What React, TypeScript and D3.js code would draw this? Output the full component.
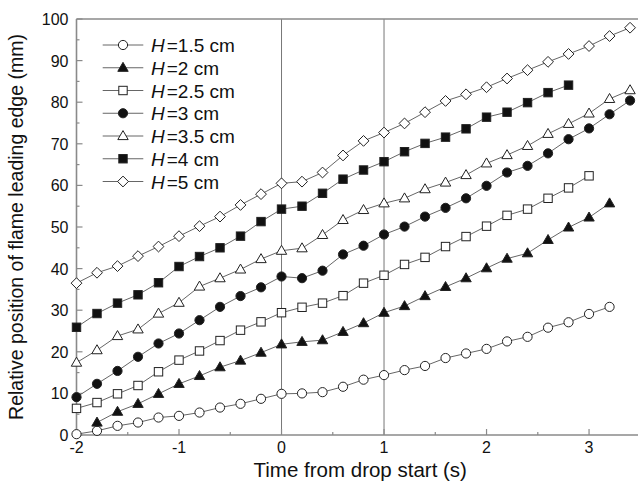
import React from "react";
import * as d3 from "d3";

const times = [-2, -1.8, -1.6, -1.4, -1.2, -1, -0.8, -0.6, -0.4, -0.2, 0, 0.2, 0.4, 0.6, 0.8, 1, 1.2, 1.4, 1.6, 1.8, 2, 2.2, 2.4, 2.6, 2.8, 3, 3.2, 3.4];

const h15 = [0.2, 1.0, 2.2, 3.0, 4.2, 4.6, 5.4, 6.6, 7.5, 8.7, 9.9, 10.0, 10.3, 11.6, 13.3, 14.4, 15.6, 16.6, 18.5, 19.6, 20.7, 22.5, 23.6, 25.8, 27.1, 29.1, 30.8];
const h20 = [3.0, 5.6, 7.5, 9.9, 12.3, 14.2, 16.3, 17.9, 19.8, 21.8, 22.4, 22.8, 24.8, 26.9, 29.4, 31.0, 33.4, 35.6, 37.7, 40.1, 42.4, 43.7, 46.9, 49.9, 52.3, 55.7];
const h25 = [6.4, 7.8, 9.9, 11.9, 15.2, 18.0, 20.2, 22.7, 25.2, 27.2, 29.4, 30.7, 31.7, 33.5, 36.5, 38.4, 41.0, 42.7, 45.3, 47.7, 50.2, 52.8, 54.3, 56.9, 59.4, 62.3];
const h30 = [9.1, 12.3, 15.4, 18.8, 22.0, 24.4, 27.6, 30.8, 33.4, 35.5, 38.1, 37.7, 39.5, 43.4, 45.5, 48.2, 50.1, 52.5, 54.6, 56.9, 59.9, 63.1, 64.7, 67.7, 71.1, 73.7, 77.1, 80.4];
const h35 = [17.4, 20.4, 23.8, 25.4, 29.2, 31.8, 35.7, 37.7, 39.8, 42.3, 44.3, 44.9, 48.1, 51.7, 54.1, 55.7, 56.9, 59.1, 60.7, 62.5, 65.3, 67.3, 69.5, 72.4, 74.8, 77.3, 80.8, 82.9];
const h40 = [25.9, 29.2, 31.7, 33.7, 36.6, 40.5, 42.9, 45.0, 47.8, 51.3, 54.3, 55.0, 58.1, 61.5, 63.7, 65.7, 68.1, 70.1, 71.6, 73.6, 76.4, 77.6, 79.9, 82.3, 84.1];
const h50 = [36.5, 39.0, 40.6, 43.0, 45.3, 47.8, 50.2, 52.5, 55.3, 57.9, 60.5, 60.9, 63.1, 67.2, 70.7, 72.7, 74.9, 77.6, 80.3, 81.9, 83.6, 85.7, 87.7, 89.7, 91.6, 93.5, 95.9, 97.9];

const seriesLabels = ["=1.5 cm", "=2 cm", "=2.5 cm", "=3 cm", "=3.5 cm", "=4 cm", "=5 cm"];
const seriesValues = [h15, h20, h25, h30, h35, h40, h50];
const seriesStart = [0, 1, 0, 0, 0, 0, 0]; // index into times
const seriesMarker = ["circle", "triangle", "square", "circle", "triangle", "square", "diamond"];
const seriesFilled = [false, true, false, true, false, true, false];

const xTicks = [-2, -1, 0, 1, 2, 3];
const xMinor = [-1.5, -0.5, 0.5, 1.5, 2.5];
const yTicks = [0, 10, 20, 30, 40, 50, 60, 70, 80, 90, 100];
const yMinor = [5, 15, 25, 35, 45, 55, 65, 75, 85, 95];
const refLines = [0, 1];

const W = 638;
const H = 484;
const left = 76.5;
const right = 640.3;
const top = 19;
const bottom = 435;

const FONT = "'Liberation Sans', Arial, Helvetica, sans-serif";
const AXIS = "#8a8a8a";

function Marker({ type, filled, x, y }: { type: string; filled: boolean; x: number; y: number }) {
  const fill = filled ? "#111" : "#fff";
  const stroke = "#222";
  const sw = 1;
  if (type === "circle") {
    return <circle cx={x} cy={y} r={4.6} fill={fill} stroke={stroke} strokeWidth={sw} />;
  }
  if (type === "square") {
    const s = 4.2;
    return <rect x={x - s} y={y - s} width={2 * s} height={2 * s} fill={fill} stroke={stroke} strokeWidth={sw} />;
  }
  if (type === "triangle") {
    const hw = 5.2;
    const h = 9;
    const p = `M${x},${y - h * 0.6}L${x + hw},${y + h * 0.4}L${x - hw},${y + h * 0.4}Z`;
    return <path d={p} fill={fill} stroke={stroke} strokeWidth={sw} />;
  }
  const r = 5.4;
  const p = `M${x},${y - r}L${x + r},${y}L${x},${y + r}L${x - r},${y}Z`;
  return <path d={p} fill={fill} stroke={stroke} strokeWidth={sw} />;
}

export default function App() {
  const x = d3.scaleLinear().domain([-2, 3.5]).range([left, right]);
  const y = d3.scaleLinear().domain([0, 100]).range([bottom, top]);
  const line = d3
    .line<[number, number]>()
    .x((d) => x(d[0]))
    .y((d) => y(d[1]));

  const series = seriesValues.map((vals, i) =>
    vals.map((v, j) => [times[seriesStart[i] + j], v] as [number, number])
  );

  const legX0 = 102.7;
  const legX1 = 143.3;
  const legTextX = 151;
  const legY0 = 45;
  const legDy = 22.75;

  return (
    <svg
      width={W}
      height={H}
      style={{ position: "absolute", left: 0, top: 0, background: "#fff" }}
      fontFamily={FONT}
    >
      <rect x={0} y={0} width={W} height={H} fill="#fff" />
      {refLines.map((v) => (
        <line key={"r" + v} x1={x(v)} x2={x(v)} y1={bottom} y2={top} stroke="#777" strokeWidth={1} />
      ))}
      <line x1={left} x2={right} y1={bottom} y2={bottom} stroke={AXIS} strokeWidth={1.6} />
      <line x1={left} x2={right} y1={top} y2={top} stroke={AXIS} strokeWidth={1.6} />
      <line x1={left} x2={left} y1={top} y2={bottom} stroke={AXIS} strokeWidth={1.6} />
      {xTicks.map((t) => (
        <g key={"xt" + t}>
          <line x1={x(t)} x2={x(t)} y1={bottom} y2={bottom - 6} stroke={AXIS} strokeWidth={1.2} />
          <text x={x(t)} y={bottom + 18} textAnchor="middle" fontSize={16} fill="#111">
            {t}
          </text>
        </g>
      ))}
      {xMinor.map((t) => (
        <line key={"xm" + t} x1={x(t)} x2={x(t)} y1={bottom} y2={bottom - 3} stroke={AXIS} strokeWidth={1.2} />
      ))}
      {yTicks.map((t) => (
        <g key={"yt" + t}>
          <line x1={left} x2={left + 6} y1={y(t)} y2={y(t)} stroke={AXIS} strokeWidth={1.2} />
          <text x={left - 8} y={y(t) + 6} textAnchor="end" fontSize={16} fill="#111">
            {t}
          </text>
        </g>
      ))}
      {yMinor.map((t) => (
        <line key={"ym" + t} x1={left} x2={left + 3} y1={y(t)} y2={y(t)} stroke={AXIS} strokeWidth={1.2} />
      ))}
      {series.map((pts, i) => (
        <path key={"l" + i} d={line(pts) || ""} fill="none" stroke="#666" strokeWidth={1} />
      ))}
      {series.map((pts, i) =>
        pts.map((p, j) => (
          <Marker key={"m" + i + "-" + j} type={seriesMarker[i]} filled={seriesFilled[i]} x={x(p[0])} y={y(p[1])} />
        ))
      )}
      {seriesLabels.map((lab, i) => {
        const ly = legY0 + i * legDy;
        return (
          <g key={"lg" + i}>
            <line x1={legX0} x2={legX1} y1={ly} y2={ly} stroke="#666" strokeWidth={1} />
            <Marker type={seriesMarker[i]} filled={seriesFilled[i]} x={(legX0 + legX1) / 2} y={ly} />
            <text x={legTextX} y={ly + 7} fontSize={19} fill="#111">
              <tspan fontStyle="italic">H</tspan>
              <tspan dx={2}>{lab}</tspan>
            </text>
          </g>
        );
      })}
      <text x={(left + 638) / 2 + 3} y={477} textAnchor="middle" fontSize={20.5} fill="#111">
        Time from drop start (s)
      </text>
      <text
        transform={`translate(23, ${(top + bottom) / 2}) rotate(-90)`}
        textAnchor="middle"
        fontSize={19.5}
        fill="#111"
      >
        Relative position of flame leading edge (mm)
      </text>
    </svg>
  );
}
